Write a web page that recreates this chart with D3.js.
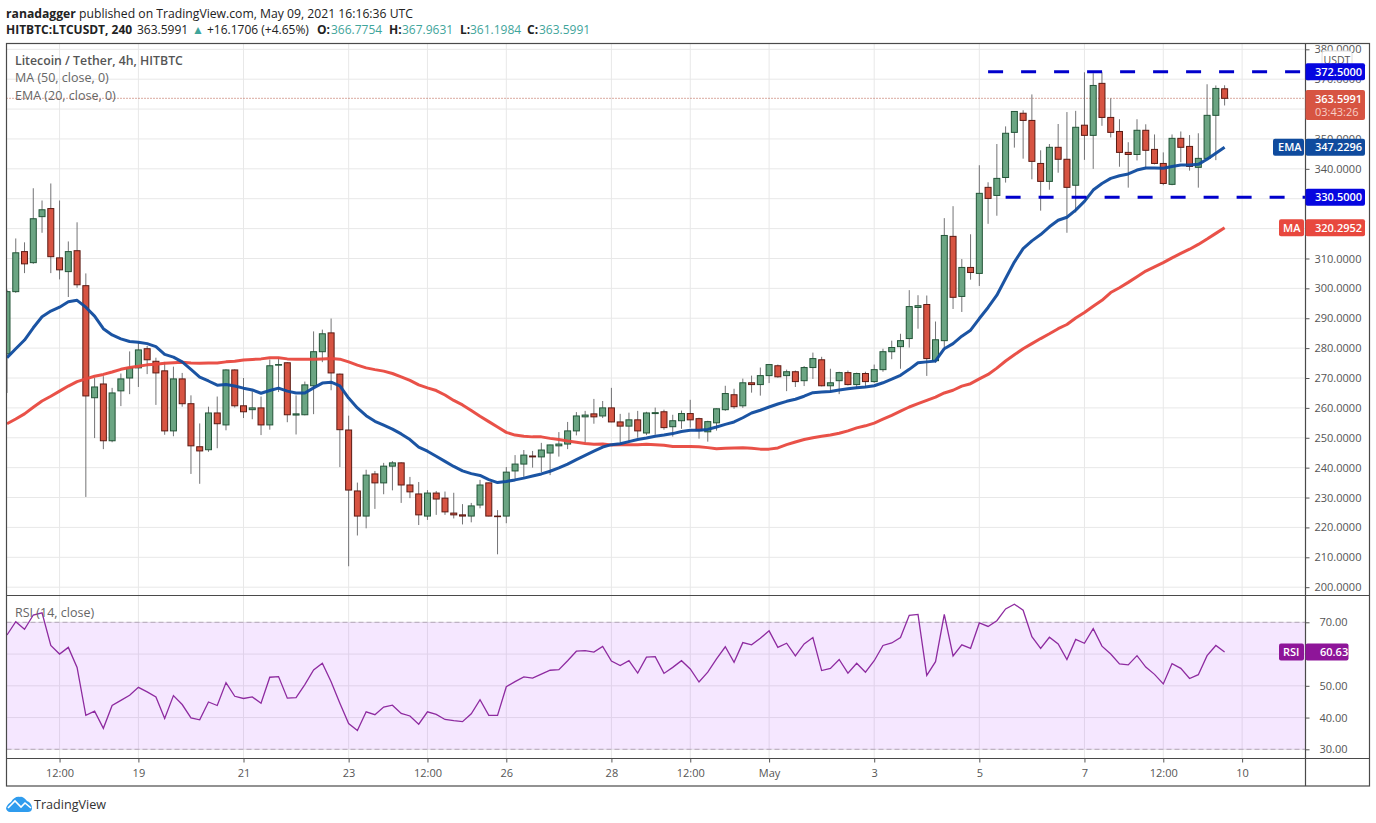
<!DOCTYPE html>
<html>
<head>
<meta charset="utf-8">
<script src="https://cdn.jsdelivr.net/npm/d3@7"></script>
<style>
  html, body { margin: 0; padding: 0; background: #fff; }
  svg { display: block; }
  text { font-family: "Open Sans", "Noto Sans", sans-serif; }
</style>
</head>
<body>
<div id="chart"></div>
<script>
// candle values, oldest first
var opens = [278.1,298.9,312.3,308.6,324,326.7,310.2,305.6,312.6,300.9,263.4,268,249,265.7,270,273.4,279.8,275.6,272.4,252.3,
  269.7,261.4,247,246,258.3,254.3,272.7,260.7,259.4,260,254.3,274.3,275.1,257.6,257.7,267.4,278.8,285.1,271.3,252.6,
  232.2,223.8,237.9,234.9,240.5,241.6,234.2,231.2,223.8,231.5,229.8,224.8,224.2,223.8,227.5,234.9,223.8,223.8,238.9,241.2,
  243.9,243.6,244.9,247.3,247.9,252.3,257,258,257.3,260,255.3,253.9,256,251.6,258.1,258.7,253.7,255.7,258.1,256.4,
  252,255,259.4,264.4,260.7,268.4,267.8,270.8,274.1,270.8,272.1,269.1,273.5,276.1,267.4,269.1,271.8,267.8,271.5,268.8,
  272.8,278.8,280.5,283.2,293.6,294.6,275.8,282.5,317.4,297.3,307,305,333.8,331.1,337.1,352.2,358.6,356.2,341.8,335.8,
  347.2,343.2,334.5,354.6,351.2,368.6,357.2,352.5,345.5,344.8,352.9,346.5,341.8,334.8,350.2,347.5,340.5,343.5,357.9,366.7754];
var closes = [298.9,311.9,308.2,323.3,326.3,310.6,306.2,312.3,301.2,264,267,249,265,269.7,273.4,279.4,276.1,271.7,252.3,269.7,
  261.4,247.3,245.6,258.3,254.7,272.7,260.7,258.7,260,254.3,274.1,274.5,257.7,258,267.7,278.8,284.8,271.7,252.7,232.5,
  223.8,237.5,234.9,240.5,241.6,234.2,231.9,224.2,231.5,229.5,225.2,224.2,223.8,227.2,234.2,223.8,223.7,238.5,241.2,244.2,
  243.6,245.9,247.6,247.9,252.3,257.3,257.6,257,260,255.3,253.9,256,252.3,258.3,258.4,253.4,255.7,258.1,256,252.4,
  255.4,259.7,264.8,260.4,268.4,267.8,270.8,274.5,270.4,272.1,268.8,273.5,276.5,267.4,268.4,271.8,267.8,271.5,268.8,272.8,
  278.8,280.2,282.5,293.9,294.2,276.5,282.8,317.7,297,307,305.3,331.8,330.1,336.8,351.9,359.2,356.2,342.5,335.8,347.2,
  343.2,333.8,353.9,351.2,367.9,357.2,352.2,345.5,344.8,352.9,346.2,341.8,335.1,350.2,347.2,340.8,343.5,357.9,366.9,363.5991];
var highs = [299.6,316.7,315.4,333.5,329.4,335.1,329.4,315.7,322.1,305,270,270.6,266.7,271.5,278.9,282,280.7,276.8,275.4,273.8,
  271.7,264.2,254.8,260.4,263.8,272.9,272.9,270,265.6,263.8,276.2,276.8,275.3,264.2,268.8,285.6,286.2,289.9,271.5,257.4,
  235,239.3,238.9,241.6,242.2,241.8,236.9,235.2,232.5,232.2,232,231.6,227.8,228.2,235.9,235,225.8,240.2,244.2,245.9,
  245.6,248.3,247.7,251.9,255.3,258.6,259,263,262.3,266.7,258,258.4,259,258.7,260.1,259.4,257.7,259.1,262.7,256.7,
  255.7,259.8,267.4,266.4,269.8,270.8,273.5,274.6,274.5,272.8,272.5,274,278.5,277.1,273.1,272.1,272.5,271.8,272.1,274.5,
  279.8,282.5,284.8,299.4,297.7,297.6,288.9,323.5,327.5,309.8,318.1,341.2,335.5,348.3,354.2,359.3,359.6,364.9,346.2,348.3,
  355,359,359.4,372.3,372,372.3,363.6,356.6,348.9,356.6,354.9,351.5,345.5,351.5,352.5,351.3,351.9,368.3,367.9,367.9631];
var lows = [265,298.5,305.1,308.2,318.6,305.1,303,297.1,300.2,230.2,249.9,246.2,248.5,260.6,264.6,267,271.3,261,251,250.5,
  260.4,237.9,234.6,245.3,246.5,252.5,260.1,256.6,256.2,250.9,252.7,265.3,255.2,251.1,257.5,257.9,275.3,265.9,240.2,207,
  217.3,219.7,226.2,231.1,232.4,228.2,229.8,220.8,222.5,224.2,224.2,223,221,221.7,226.4,223.7,211,221.4,236.2,236.9,
  240,238.5,237.5,243.7,246.2,250.8,248.3,254.7,256.6,255.2,248.3,248.8,250,250.9,251,252.7,250.4,253,253.4,249.7,
  248.7,252.4,259,259.7,260,265.1,264.1,268.3,270.1,265.6,267,267.3,269.7,267.2,265.3,264.6,267.5,266.4,266.8,268.4,
  272.1,276.3,273.1,280.2,286.5,270.7,275.1,279.8,293.1,292.1,302.9,300.8,321.6,324.3,335.4,347.1,343.4,336.5,326,333,
  338.7,318.6,325.4,343,340,354.4,350.5,340.7,333.7,342.8,340.2,341.5,334.5,334.5,342.2,339.4,333.7,343.2,342.9,361.1984];

var emaValues = [276.8,279.8,282.7,286.8,290.5,292.4,293.7,295.5,296,293.7,290.7,286.5,284.4,283.1,282.2,282,281.5,280.5,277.9,277,
  275.4,272.9,270.3,269,267.6,267.8,267.3,266.6,266,264.9,265.8,266.6,265.6,265,265,266.7,268.3,268.6,267.4,263.3,
  260,257.4,255.5,254.2,252.9,251.3,249.4,246.9,245.5,243.8,242.1,240.4,238.9,238,237.4,236,235,235.4,235.9,236.5,
  237.2,237.9,238.8,239.9,241.2,242.7,244.1,245.5,246.9,247.7,248,248.7,249.4,249.9,250.5,250.9,251.4,252.1,252.5,252.5,
  252.8,253.6,254.5,255.3,256.7,258.3,259.2,260.3,261.3,262.2,262.9,263.9,265.1,265.3,265.5,266,266.4,266.7,267,267.4,
  268.4,269.6,270.9,272.9,275.1,275.4,275.7,279.8,281.5,284,286,289.9,293.6,297.7,303.3,308.8,313.3,315.9,318,320.6,
  322.8,323.8,326.2,329.1,332.9,335.1,336.8,337.7,338.3,339.6,340.3,340.3,340.2,340.8,341.3,341.3,341.5,343.2,345.2,347.2296];
var maValues = [254.7,256.3,258,260.2,262.3,263.9,265.6,267.3,268.8,269.7,270.6,271.2,272,272.9,273.5,273.9,274.4,274.6,274.9,275.1,
  275.3,275,274.9,275,275,275.4,275.6,276,276.2,276.4,276.8,276.8,276.4,276.3,276.3,276.3,276.4,276.5,276.3,275.4,
  274.3,273.4,272.8,272.3,271.5,270.4,269.2,267.7,266.7,265.8,264.3,262.5,261,259.1,257.2,255.4,253.6,251.8,250.9,250.5,
  250.3,250.3,249.8,249.4,248.9,248.5,248.1,247.8,247.9,247.6,247.7,247.7,247.7,247.8,247.7,247.5,247.1,247.1,247.1,247,
  246.7,246.3,246.5,246.6,246.7,246.5,246.2,246.2,246.6,247.7,248.6,249.4,250,250.5,250.9,251.5,252.3,253.3,254,254.9,
  256.2,257.5,258.9,260.3,261.4,262.5,263.6,265,265.9,267.3,268.1,269.7,271.2,273.3,275.7,277.8,279.8,281.5,283.2,284.8,
  286.5,287.9,290.1,291.9,294,296,298.6,300.2,302,303.9,305.8,307.2,308.6,310.2,311.7,313.1,314.7,316.5,318.4,320.2952];
var rsiValues = [66,70.2,67.8,72.3,73,62.7,60,62.1,55.8,40.7,42,36.6,43.8,45.4,47,49.5,48.1,46.5,39.7,46.9,
  44.1,39.9,39.3,44.9,43.8,51,46.7,46,46.5,44.5,52.7,52.9,46.1,46.3,50.4,55,57.1,51.3,44.5,38.1,
  35.9,41.8,40.9,43.3,43.9,41.3,40.5,37.9,41.8,41,39.4,39,38.7,41.2,45.6,40.7,40.7,49.7,51.3,52.8,
  52.4,53.7,54.9,55.1,57.9,60.9,61.1,60.6,62.4,57.8,56.4,57.9,54,59,59.2,53.9,55.8,57.9,55.3,51.2,
  54.3,58.5,62.3,57.4,63.6,62.9,65,67.3,62.1,63.4,59.4,63.2,65.2,54.8,55.5,58.3,54,57.1,54.3,57.9,
  62.7,63.5,65.2,72.2,72.5,53.3,57.6,72.5,59.4,62.9,61.8,69.8,68.7,70.5,74.2,75.7,73.8,65.5,61.8,65.3,
  63.2,58.3,64.6,63.4,68,62.5,60,56.9,56.6,59.5,55.9,53.6,50.6,57,55.5,52.3,53.5,59.5,62.7,60.63];

var priceTicks = [200,210,220,230,240,250,260,270,280,290,300,310,320,330,340,350,360,370,380];
var hiddenPriceLabels = [320,330,360];   // fully covered by tags in the reference
var rsiTicks = [30,40,50,60,70];
var hiddenRsiLabels = [60];
var timeTickIndex = [6,15,27,39,48,57,69,78,87,99,111,123,132,141];
var timeTickLabels = ["12:00","19","21","23","12:00","26","28","12:00","May","3","5","7","12:00","10"];
var levels = [372.5, 330.5];
var levelStart = [112, 114];

var width = 1376, height = 823;
var left = 6.5, paneRight = 1305.5, outerRight = 1369.5;
var top0 = 43.5, priceBottom = 595.5, rsiBottom = 758.5, outerBottom = 786;

var svg = d3.select("#chart").append("svg")
  .attr("width", width)
  .attr("height", height);

var x = d3.scaleLinear().domain([0, 139]).range([7, 1224.6]);
var y = d3.scaleLinear().domain([210, 380]).range([557.3, 49.3]);
var yRsi = d3.scaleLinear().domain([30, 70]).range([749.3, 622.3]);

svg.append("defs").append("clipPath").attr("id", "pane")
  .append("rect").attr("x", left).attr("y", top0)
  .attr("width", paneRight - left).attr("height", priceBottom - top0);

var idx = d3.range(opens.length);
var gridCol = "#e8e8e8";

// grid
var grid = svg.append("g");
grid.selectAll(".vp").data(timeTickIndex).enter().append("line")
  .attr("x1", function(d) { return x(d); }).attr("x2", function(d) { return x(d); })
  .attr("y1", top0).attr("y2", rsiBottom)
  .attr("stroke", gridCol).attr("stroke-width", 1);
grid.selectAll(".hp").data(priceTicks).enter().append("line")
  .attr("x1", left).attr("x2", paneRight)
  .attr("y1", function(d) { return y(d); }).attr("y2", function(d) { return y(d); })
  .attr("stroke", gridCol).attr("stroke-width", 1);
grid.selectAll(".hr").data(rsiTicks).enter().append("line")
  .attr("x1", left).attr("x2", paneRight)
  .attr("y1", function(d) { return yRsi(d); }).attr("y2", function(d) { return yRsi(d); })
  .attr("stroke", gridCol).attr("stroke-width", 1);

// rsi band
svg.append("rect")
  .attr("x", left).attr("width", paneRight - left)
  .attr("y", yRsi(70)).attr("height", yRsi(30) - yRsi(70))
  .attr("fill", "#9915ff").attr("fill-opacity", 0.1);
svg.selectAll(".band").data([70, 30]).enter().append("line")
  .attr("x1", left).attr("x2", paneRight)
  .attr("y1", function(d) { return yRsi(d); }).attr("y2", function(d) { return yRsi(d); })
  .attr("stroke", "#b5a8b8").attr("stroke-width", 1).attr("stroke-dasharray", "5,3");

var price = svg.append("g").attr("clip-path", "url(#pane)");

// last price dotted line
price.append("line")
  .attr("x1", left).attr("x2", paneRight)
  .attr("y1", y(closes[139])).attr("y2", y(closes[139]))
  .attr("stroke", "#b5533f").attr("stroke-width", 1).attr("stroke-dasharray", "1,2");

// wicks
price.selectAll(".wick").data(idx).enter().append("line")
  .attr("x1", function(i) { return x(i); }).attr("x2", function(i) { return x(i); })
  .attr("y1", function(i) { return y(highs[i]); }).attr("y2", function(i) { return y(lows[i]); })
  .attr("stroke", "#737375").attr("stroke-width", 1);

// bodies
price.selectAll(".body").data(idx).enter().append("rect")
  .attr("x", function(i) { return x(i) - 3; })
  .attr("width", 6)
  .attr("y", function(i) { return y(Math.max(opens[i], closes[i])); })
  .attr("height", function(i) { return Math.max(0.6, Math.abs(y(opens[i]) - y(closes[i]))); })
  .attr("fill", function(i) { return closes[i] >= opens[i] ? "#6ba583" : "#d75442"; })
  .attr("stroke", function(i) { return closes[i] >= opens[i] ? "#225437" : "#5b1a13"; })
  .attr("stroke-width", 1);

var line = function(scale) {
  return d3.line().x(function(d, i) { return x(i); }).y(function(d) { return scale(d); });
};

price.append("path").attr("d", line(y)(maValues))
  .attr("fill", "none").attr("stroke", "#e8483e").attr("stroke-width", 3)
  .attr("stroke-opacity", 0.95).attr("stroke-linejoin", "round");
price.append("path").attr("d", line(y)(emaValues))
  .attr("fill", "none").attr("stroke", "#0f4b9e").attr("stroke-width", 3)
  .attr("stroke-opacity", 0.95).attr("stroke-linejoin", "round");

// resistance and support lines
svg.selectAll(".level").data(levels).enter().append("line")
  .attr("x1", function(d, i) { return x(levelStart[i]); })
  .attr("x2", paneRight)
  .attr("y1", function(d) { return y(d); }).attr("y2", function(d) { return y(d); })
  .attr("stroke", "#0000cc").attr("stroke-width", 3).attr("stroke-dasharray", "15,18");

svg.append("path")
  .attr("d", line(yRsi)(rsiValues))
  .attr("fill", "none").attr("stroke", "#8e2ba0").attr("stroke-width", 1.3);

// frame
var frameCol = "#4a4a4a";
svg.append("rect")
  .attr("x", left).attr("y", top0)
  .attr("width", outerRight - left).attr("height", outerBottom - top0)
  .attr("fill", "none").attr("stroke", frameCol).attr("stroke-width", 1.2);
[[left, priceBottom, outerRight, priceBottom], [left, rsiBottom, outerRight, rsiBottom],
 [paneRight, top0, paneRight, outerBottom]].forEach(function(l) {
  svg.append("line").attr("x1", l[0]).attr("y1", l[1]).attr("x2", l[2]).attr("y2", l[3])
    .attr("stroke", frameCol).attr("stroke-width", 1.2);
});

// axes
function styleAxis(g) {
  g.select(".domain").remove();
  g.selectAll(".tick line").attr("stroke", "#555");
  g.selectAll(".tick text")
    .attr("fill", "#555")
    .style("font-family", '"Open Sans", sans-serif')
    .style("font-size", "11px");
}

svg.append("g")
  .attr("transform", "translate(" + paneRight + ",0)")
  .call(d3.axisRight(y).tickValues(priceTicks).tickSize(4).tickPadding(5)
    .tickFormat(function(d) { return hiddenPriceLabels.indexOf(d) >= 0 ? "" : d3.format(".4f")(d); }))
  .call(styleAxis);

svg.append("g")
  .attr("transform", "translate(" + paneRight + ",0)")
  .call(d3.axisRight(yRsi).tickValues(rsiTicks).tickSize(4).tickPadding(10)
    .tickFormat(function(d) { return hiddenRsiLabels.indexOf(d) >= 0 ? "" : d3.format(".2f")(d); }))
  .call(styleAxis);

svg.append("g")
  .attr("transform", "translate(0," + rsiBottom + ")")
  .call(d3.axisBottom(x).tickValues(timeTickIndex).tickSize(4).tickPadding(7)
    .tickFormat(function(d, i) { return timeTickLabels[i]; }))
  .call(styleAxis);

// price scale tags
function tag(x0, w, yMid, h, fill, label, textX) {
  svg.append("rect").attr("x", x0).attr("y", yMid - h / 2).attr("width", w).attr("height", h)
    .attr("rx", 2).attr("fill", fill);
  svg.append("text").attr("x", textX).attr("y", yMid + 4)
    .attr("fill", "#fff").attr("font-size", 11).attr("font-weight", 600).text(label);
}

svg.append("rect").attr("x", 1322).attr("y", 51).attr("width", 30).attr("height", 17)
  .attr("rx", 3).attr("fill", "#fff").attr("stroke", "#dcdcdc");
svg.append("text").attr("x", 1337).attr("y", 63.5).attr("text-anchor", "middle")
  .attr("fill", "#555").attr("font-size", 10.5).text("USDT");

tag(1305.5, 59.5, y(372.5), 17, "#0606e0", "372.5000", 1315);
tag(1305.5, 59.5, y(330.5), 17, "#0606e0", "330.5000", 1315);

svg.append("rect").attr("x", 1305.5).attr("y", 90).attr("width", 59.5).attr("height", 30)
  .attr("rx", 2).attr("fill", "#d75442");
svg.append("text").attr("x", 1315).attr("y", 103)
  .attr("fill", "#fff").attr("font-size", 11).attr("font-weight", 600).text("363.5991");
svg.append("text").attr("x", 1315).attr("y", 116)
  .attr("fill", "#f8cfc7").attr("font-size", 11).text("03:43:26");

tag(1273, 31, y(347.2296), 17, "#0f4b9e", "EMA", 1278);
tag(1305.5, 59.5, y(347.2296), 17, "#0f4b9e", "347.2296", 1315);
tag(1279, 25, y(320.2952), 17, "#e8483e", "MA", 1283);
tag(1305.5, 59.5, y(320.2952), 17, "#e8483e", "320.2952", 1315);
tag(1279, 25, yRsi(60.63), 17, "#8e1599", "RSI", 1283);
tag(1305.5, 43, yRsi(60.63), 17, "#8e1599", "60.63", 1320);

// header
var head1 = svg.append("text").attr("x", 6).attr("y", 18).attr("font-size", 12.2).attr("fill", "#222");
head1.append("tspan").attr("font-weight", 700).text("ranadagger");
head1.append("tspan").text(" published on TradingView.com, May 09, 2021 16:16:36 UTC");

var teal = "#3fa59b";
var head2 = svg.append("text").attr("x", 6).attr("y", 34).attr("font-size", 12).attr("fill", "#222");
head2.append("tspan").attr("font-weight", 700).text("HITBTC:LTCUSDT, 240");
head2.append("tspan").attr("x", 137).text("363.5991");
head2.append("tspan").attr("x", 192).attr("fill", teal).text("▲");
head2.append("tspan").attr("x", 207).text("+16.1706 (+4.65%)");
head2.append("tspan").attr("x", 317).attr("font-weight", 700).text("O:");
head2.append("tspan").attr("x", 331).attr("fill", teal).text("366.7754");
head2.append("tspan").attr("x", 389).attr("font-weight", 700).text("H:");
head2.append("tspan").attr("x", 402).attr("fill", teal).text("367.9631");
head2.append("tspan").attr("x", 460).attr("font-weight", 700).text("L:");
head2.append("tspan").attr("x", 470).attr("fill", teal).text("361.1984");
head2.append("tspan").attr("x", 527).attr("font-weight", 700).text("C:");
head2.append("tspan").attr("x", 539).attr("fill", teal).text("363.5991");

// legend
svg.append("text").attr("x", 15).attr("y", 65).attr("font-size", 12.3).attr("font-weight", 600)
  .attr("fill", "#555").text("Litecoin / Tether, 4h, HITBTC");
svg.append("text").attr("x", 15).attr("y", 82).attr("font-size", 12.5)
  .attr("fill", "#666").text("MA (50, close, 0)");
svg.append("text").attr("x", 15).attr("y", 99.5).attr("font-size", 12.5)
  .attr("fill", "#666").text("EMA (20, close, 0)");
svg.append("text").attr("x", 15).attr("y", 617).attr("font-size", 12.5)
  .attr("fill", "#666").text("RSI (14, close)");

// logo
var logo = svg.append("g").attr("transform", "translate(6,796)");
logo.append("path")
  .attr("d", "M0,12 C1,9 3,7 5,6 C7,2 11,0 14,1 C17,0 19,3 21,5 C24,6 26,9 26,12 C26,15 24,16 22,16 L4,16 C2,16 0,14 0,12 Z")
  .attr("fill", "#2f9cee");
logo.append("path")
  .attr("d", "M2,12 L9,5 L15,11 L19,7 L25,12")
  .attr("fill", "none").attr("stroke", "#fff").attr("stroke-width", 1.6);
svg.append("text").attr("x", 34).attr("y", 809).attr("font-size", 12.6).attr("fill", "#333").text("TradingView");
</script>
</body>
</html>
